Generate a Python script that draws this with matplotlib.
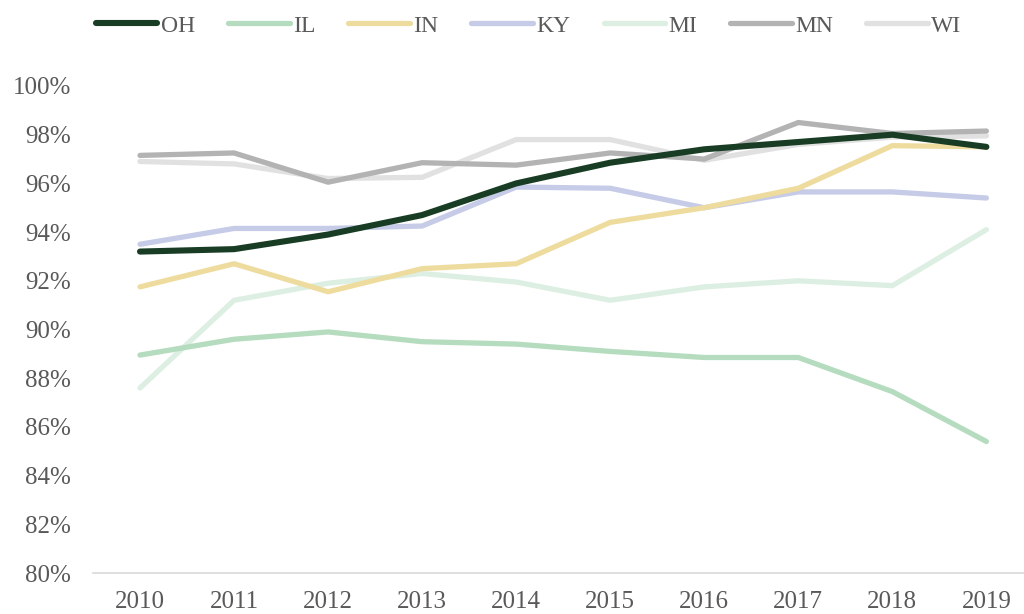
import matplotlib
matplotlib.use('Agg')
import matplotlib.pyplot as plt
from matplotlib.ticker import PercentFormatter

years = ['2010', '2011', '2012', '2013', '2014', '2015', '2016', '2017', '2018', '2019']

states = ['OH', 'IL', 'IN', 'KY', 'MI', 'MN', 'WI']
oh = [93.2, 93.3, 93.9, 94.7, 96.0, 96.85, 97.4, 97.7, 98.0, 97.5]
il = [88.95, 89.6, 89.9, 89.5, 89.4, 89.1, 88.85, 88.85, 87.45, 85.4]
in_ = [91.75, 92.7, 91.55, 92.5, 92.7, 94.4, 95.0, 95.8, 97.55, 97.5]
ky = [93.5, 94.15, 94.15, 94.25, 95.85, 95.8, 95.0, 95.65, 95.65, 95.4]
mi = [87.6, 91.2, 91.9, 92.3, 91.95, 91.2, 91.75, 92.0, 91.8, 94.1]
mn = [97.15, 97.25, 96.05, 96.85, 96.75, 97.25, 97.0, 98.5, 98.05, 98.15]
wi = [96.9, 96.8, 96.2, 96.25, 97.8, 97.8, 96.95, 97.6, 97.9, 97.95]

series = [oh, il, in_, ky, mi, mn, wi]
colors = ['#183d24', '#b5dcbe', '#eedc9f', '#c6cbe7', '#dcefe2', '#b3b3b3', '#e1e1e1']

plt.rcParams['font.family'] = ['Liberation Serif', 'DejaVu Serif']

fig = plt.figure(figsize=(10.24, 6.14), dpi=100)
ax = fig.add_axes([93 / 1024, 1 - 573 / 614, 1 - 93 / 1024, (573 - 86) / 614])

x = list(range(len(years)))
# OH drawn last so it sits on top
for name, vals, col in reversed(list(zip(states, series, colors))):
    lw = 4.4 if name == 'OH' else 3.8
    ax.plot(x, vals, color=col, linewidth=lw, label=name,
            solid_capstyle='round', solid_joinstyle='round',
            zorder=5 if name == 'OH' else 3)

ax.set_ylim(80, 100)
ax.set_xlim(-0.5, 9.4)
ax.set_yticks(range(80, 101, 2))
ax.yaxis.set_major_formatter(PercentFormatter(decimals=0))
ax.set_xticks(x)
ax.set_xticklabels(years)

for s in ['top', 'right', 'left']:
    ax.spines[s].set_visible(False)
ax.spines['bottom'].set_color('#d9d9d9')
ax.spines['bottom'].set_linewidth(1.2)
ax.tick_params(axis='both', length=0, labelsize=18, colors='#595959')
ax.tick_params(axis='y', pad=16)
ax.tick_params(axis='x', pad=13)

handles, labels = ax.get_legend_handles_labels()
order = [labels.index(s) for s in states]
leg = fig.legend([handles[i] for i in order], [labels[i] for i in order],
                 loc='upper left', bbox_to_anchor=(0.073, 1.01), ncol=7,
                 frameon=False, fontsize=17, handlelength=2.6,
                 handletextpad=0.15, columnspacing=1.4)
for t in leg.get_texts():
    t.set_color('#595959')

fig.savefig('out.png', dpi=100)
